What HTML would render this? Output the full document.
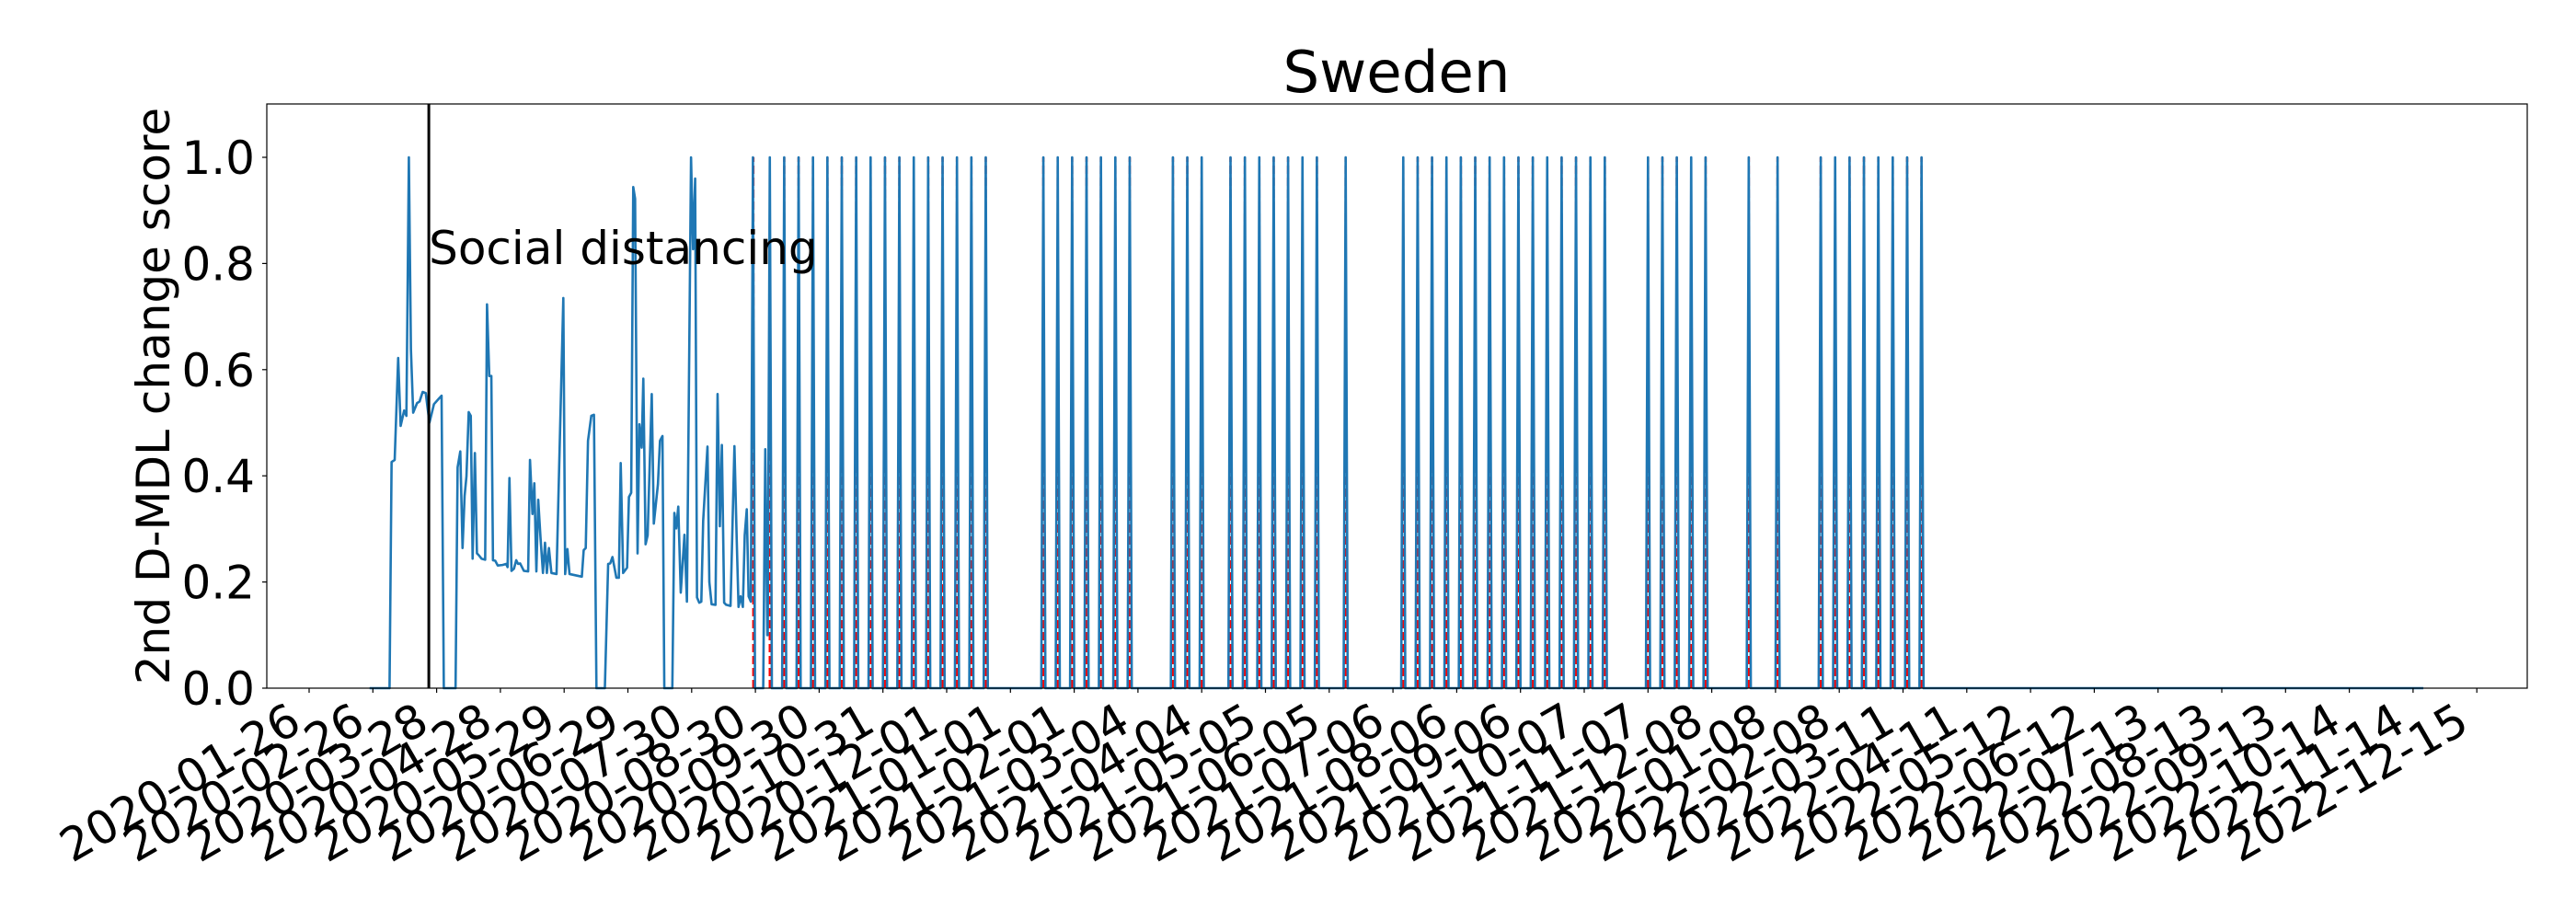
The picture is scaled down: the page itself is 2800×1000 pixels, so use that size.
<!DOCTYPE html>
<html><head><meta charset="utf-8"><style>
html,body{margin:0;padding:0;background:#fff;}
svg{display:block;font-family:"DejaVu Sans","Liberation Sans",sans-serif;}
</style></head><body>
<svg id="chart" width="2800" height="1000" viewBox="0 0 2800 1000" xmlns="http://www.w3.org/2000/svg">
<rect x="0" y="0" width="2800" height="1000" fill="#fff"/>
<text x="1518" y="100" font-size="62.5" text-anchor="middle" fill="#000">Sweden</text>
<g id="plot"></g>
<text x="184" y="430.5" font-size="50" text-anchor="middle" fill="#000" transform="rotate(-90 184 430.5)">2nd D-MDL change score</text>
</svg>
<script>
const tickLabels = ["2020-01-26","2020-02-26","2020-03-28","2020-04-28","2020-05-29","2020-06-29","2020-07-30","2020-08-30","2020-09-30","2020-10-31","2020-12-01","2021-01-01","2021-02-01","2021-03-04","2021-04-04","2021-05-05","2021-06-05","2021-07-06","2021-08-06","2021-09-06","2021-10-07","2021-11-07","2021-12-08","2022-01-08","2022-02-08","2022-03-11","2022-04-11","2022-05-12","2022-06-12","2022-07-13","2022-08-13","2022-09-13","2022-10-14","2022-11-14","2022-12-15"];
const tickDays = [0,31,62,93,124,155,186,217,248,279,310,341,372,403,434,465,496,527,558,589,620,651,682,713,744,775,806,837,868,899,930,961,992,1023,1054];
const yTicks = [0.0,0.2,0.4,0.6,0.8,1.0];
const yTickLabels = ["0.0","0.2","0.4","0.6","0.8","1.0"];
const earlyDays = [29.4,39.1,40.1,41.6,43.3,44.5,46.2,47.3,48.5,49.5,50.6,52.5,53.7,55.2,56.7,58.5,60.7,63,64.4,65.5,71.2,72.2,73.5,74.6,75.6,76.5,77.6,78.6,79.5,80.6,81.6,82.6,83.8,85.6,86.5,87.6,88.6,89.4,90.5,91.7,94,95.8,96.5,97.4,98.4,99.6,100.7,101.6,102.6,104.4,106.5,107.4,108.6,109.5,110.5,111.4,112.5,113.7,114.7,115.6,116.6,117.8,120.3,123.6,124.5,125.6,126.6,132.6,133.5,134.5,135.6,137.2,138.5,139.7,143.8,145.4,146.4,147.5,149.4,150.6,151.5,152.7,154.6,155.5,156.6,157.6,158.5,159.7,160.6,161.7,162.5,163.6,164.6,166.6,167.6,169.6,170.6,171.8,172.7,176.6,177.6,178.5,179.5,180.7,182.5,183.7,185.7,186.7,187.7,188.6,189.7,190.7,191.6,193.7,194.6,195.7,197.6,198.6,199.7,200.7,201.8,202.8,204.9,206.8,207.9,208.8,209.8,210.9,211.8,212.8,213.7,214.8,215.8,216.8,220.8,221.8,222.8];
const earlyScores = [0,0,0.426,0.43,0.622,0.494,0.523,0.513,1.0,0.638,0.519,0.537,0.54,0.558,0.556,0.5,0.535,0.545,0.551,0,0,0.416,0.446,0.264,0.362,0.399,0.52,0.513,0.244,0.443,0.254,0.25,0.244,0.242,0.723,0.588,0.588,0.241,0.24,0.231,0.232,0.234,0.228,0.396,0.221,0.225,0.241,0.234,0.235,0.221,0.22,0.43,0.328,0.386,0.22,0.355,0.284,0.217,0.274,0.217,0.264,0.217,0.215,0.735,0.215,0.262,0.215,0.21,0.26,0.264,0.466,0.513,0.515,0,0,0.234,0.235,0.247,0.208,0.208,0.424,0.217,0.227,0.36,0.368,0.944,0.922,0.254,0.497,0.453,0.583,0.271,0.288,0.554,0.31,0.384,0.466,0.475,0,0,0.33,0.301,0.342,0.18,0.289,0.163,1.0,0.827,0.96,0.171,0.161,0.163,0.315,0.455,0.2,0.158,0.157,0.554,0.305,0.458,0.161,0.157,0.155,0.456,0.281,0.153,0.173,0.153,0.288,0.337,0.173,0.163,1.0,0,0,0.45,0.1];
const spikeDays = [216,224,231,238,245,252,259,266,273,280,287,294,301,308,315,322,329,357,364,371,378,385,392,399,420,427,434,448,455,462,469,476,483,490,504,532,539,546,553,560,567,574,581,588,595,602,609,616,623,630,651,658,665,672,679,700,714,735,742,749,756,763,770,777,784];
const seriesEndDay = 1028;
const socialDay = 58.2;

const NS = "http://www.w3.org/2000/svg";
const L = 290, R = 2747, T = 113, B = 748;
function xs(d){ return 336 + d * (69.3/31); }
function ys(v){ return B - v * 577; }
const plot = document.getElementById('plot');
function mk(tag, attrs){ const e = document.createElementNS(NS, tag); for (const k in attrs) e.setAttribute(k, attrs[k]); return e; }

// alarm lines
const alarmG = mk('g', {});


plot.appendChild(alarmG);
spikeDays.forEach(d => {
  const ln = mk('line', {x1: xs(d), x2: xs(d), y1: ys(0), y2: ys(1), stroke: '#ff0000', 'stroke-width': 2.5, 'stroke-dasharray': '9,4'});
  
  
  alarmG.appendChild(ln);
});

// series
const pts = [];
for (let i = 0; i < earlyDays.length; i++) pts.push([earlyDays[i], earlyScores[i]]);
const spikeSet = new Set(spikeDays);
for (let d = 224; d <= seriesEndDay; d++) {
  if (d === 224) { pts.push([223, 0.1]); }
  pts.push([d, spikeSet.has(d) ? 1 : 0]);
}
const path = mk('polyline', {points: pts.map(p => xs(p[0]).toFixed(2) + ',' + ys(p[1]).toFixed(2)).join(' '), fill: 'none', stroke: '#1f77b4', 'stroke-width': 2.6, 'stroke-linejoin': 'round'});


plot.appendChild(path);

// social distancing line
const sd = mk('line', {x1: xs(socialDay), x2: xs(socialDay), y1: T, y2: B, stroke: '#000', 'stroke-width': 3});


plot.appendChild(sd);
const sdt = mk('text', {x: xs(socialDay), y: 287, 'font-size': 50, fill: '#000'});
sdt.textContent = 'Social distancing';


plot.appendChild(sdt);

// frame
const frame = mk('rect', {x: L, y: T, width: R - L, height: B - T, fill: 'none', stroke: '#000', 'stroke-width': 1.2});


plot.appendChild(frame);

// y ticks
yTicks.forEach((v, i) => {
  const tk = mk('line', {x1: L - 5, x2: L, y1: ys(v), y2: ys(v), stroke: '#000', 'stroke-width': 1.2});
  
  
  plot.appendChild(tk);
  const t = mk('text', {x: 277, y: ys(v) + 18, 'font-size': 50, 'text-anchor': 'end', fill: '#000'});
  t.textContent = yTickLabels[i];
  
  
  plot.appendChild(t);
});

// x ticks
tickDays.forEach((d, i) => {
  const x = xs(d);
  const tk = mk('line', {x1: x, x2: x, y1: B, y2: B + 5, stroke: '#000', 'stroke-width': 1.2});
  
  
  plot.appendChild(tk);
  const px = x - 6, py = 793;
  const t = mk('text', {x: px, y: py, 'font-size': 50, 'text-anchor': 'end', fill: '#000', transform: 'rotate(-30 ' + px + ' ' + py + ')'});
  t.textContent = tickLabels[i];
  
  
  plot.appendChild(t);
});
</script>
</body></html>
